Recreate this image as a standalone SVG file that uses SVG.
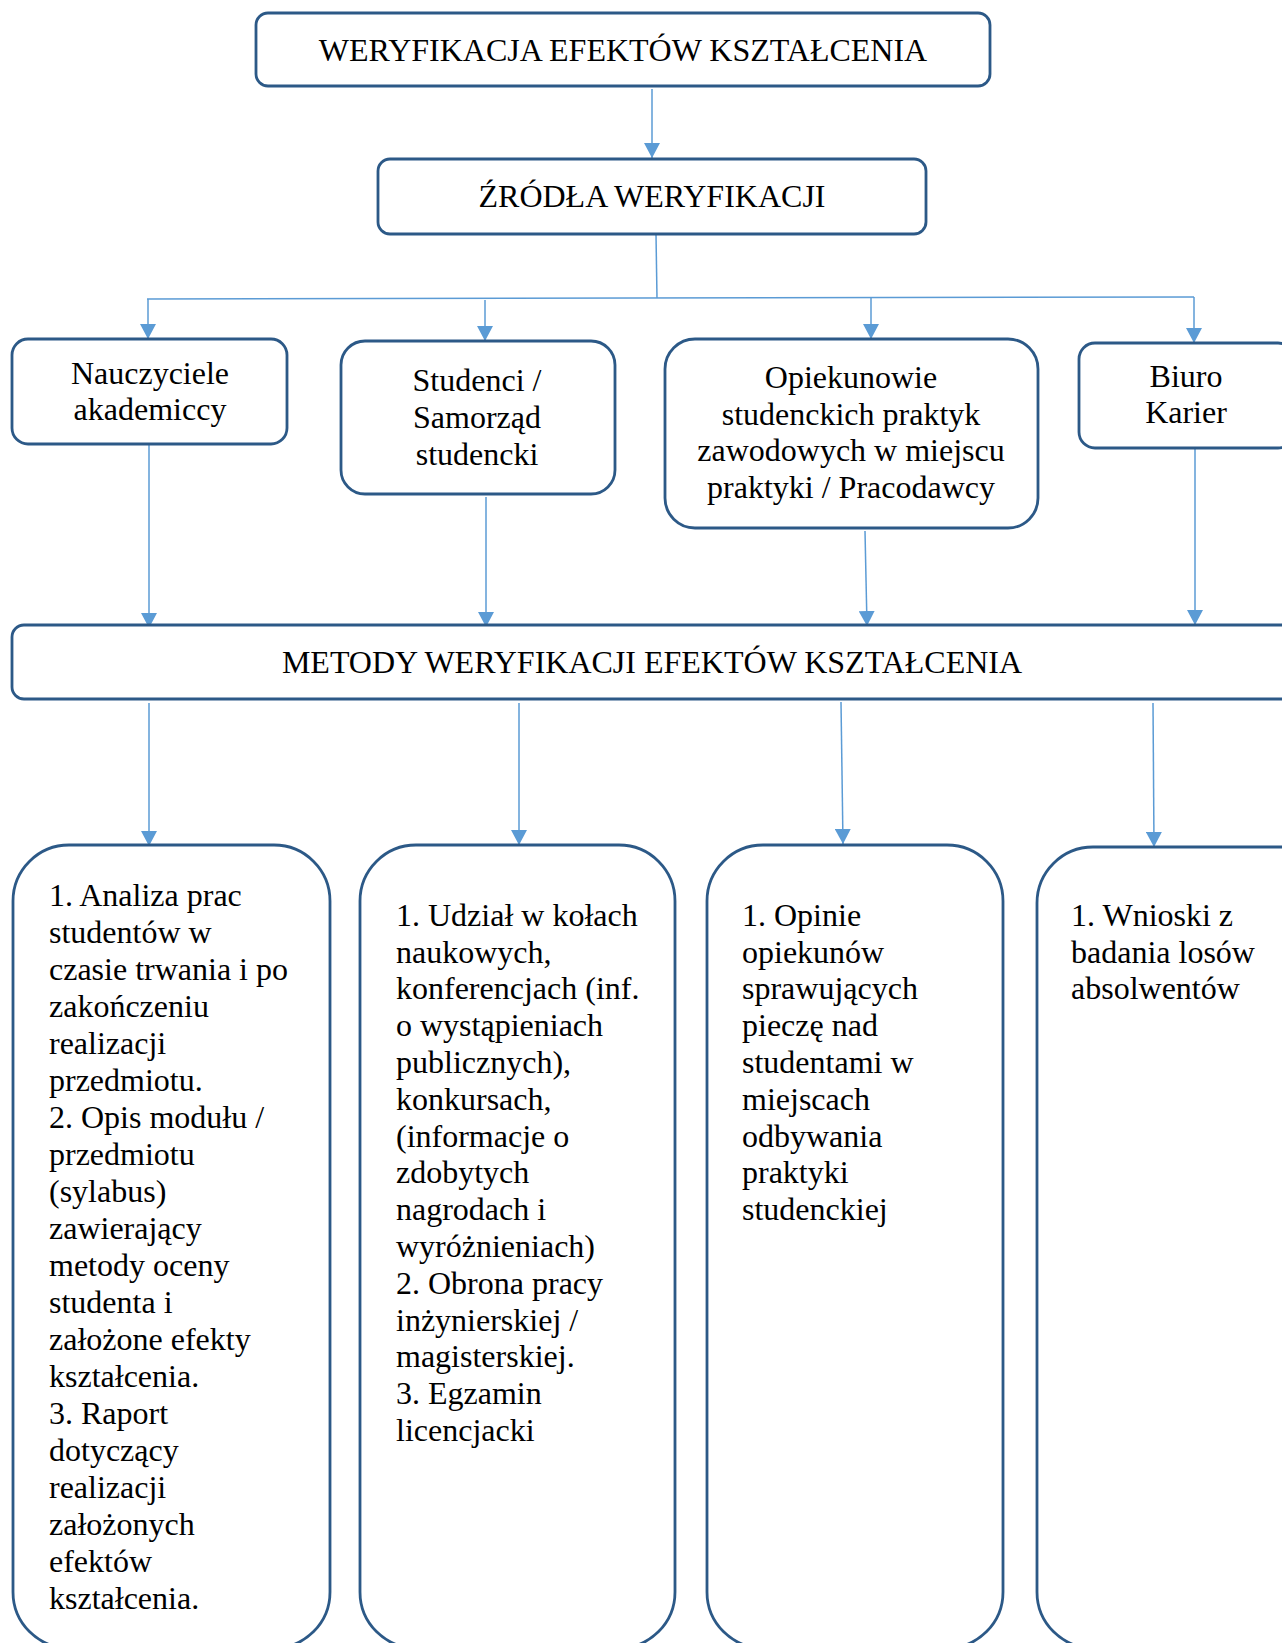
<svg xmlns="http://www.w3.org/2000/svg" width="1282" height="1643" viewBox="0 0 1282 1643">
<style>
.box{fill:#ffffff;stroke:#2c5987;stroke-width:2.8}
.t{font-family:"Liberation Serif","Times New Roman",serif;font-size:32px;fill:#000000}
.c{text-anchor:middle}
.cn{fill:none;stroke:#5b9bd5;stroke-width:1.5}
</style>
<defs>
<marker id="ah" viewBox="0 0 15 16" refX="15" refY="8" markerWidth="15" markerHeight="16" markerUnits="userSpaceOnUse" orient="auto">
<path d="M0,0 L15,8 L0,16 z" fill="#5b9bd5"/>
</marker>
</defs>
<rect width="1282" height="1643" fill="#ffffff"/>

<g id="connectors">
<line class="cn" x1="652" y1="89" x2="652" y2="158" marker-end="url(#ah)"/>
<line class="cn" x1="656" y1="234" x2="657" y2="298"/>
<line class="cn" x1="147" y1="299" x2="1194" y2="297"/>
<line class="cn" x1="148" y1="299" x2="148" y2="339" marker-end="url(#ah)"/>
<line class="cn" x1="485" y1="300" x2="485" y2="341" marker-end="url(#ah)"/>
<line class="cn" x1="871" y1="297" x2="871" y2="339" marker-end="url(#ah)"/>
<line class="cn" x1="1194" y1="297" x2="1194" y2="343" marker-end="url(#ah)"/>
<line class="cn" x1="149" y1="445" x2="149" y2="628" marker-end="url(#ah)"/>
<line class="cn" x1="486" y1="497" x2="486" y2="627" marker-end="url(#ah)"/>
<line class="cn" x1="865" y1="531" x2="867" y2="626" marker-end="url(#ah)"/>
<line class="cn" x1="1195" y1="449" x2="1195" y2="625" marker-end="url(#ah)"/>
<line class="cn" x1="149" y1="703" x2="149" y2="846" marker-end="url(#ah)"/>
<line class="cn" x1="519" y1="703" x2="519" y2="845" marker-end="url(#ah)"/>
<line class="cn" x1="841" y1="702" x2="843" y2="844" marker-end="url(#ah)"/>
<line class="cn" x1="1153" y1="703" x2="1154" y2="847" marker-end="url(#ah)"/>
</g>

<g id="n-weryfikacja">
<rect class="box" x="256" y="13" width="734" height="73" rx="12"/>
<text class="t c" x="623" y="61">WERYFIKACJA EFEKTÓW KSZTAŁCENIA</text>
</g>

<g id="n-zrodla">
<rect class="box" x="378" y="159" width="548" height="75" rx="12"/>
<text class="t c" x="652" y="207">ŹRÓDŁA WERYFIKACJI</text>
</g>

<g id="n-nauczyciele">
<rect class="box" x="12" y="339" width="275" height="105" rx="16"/>
<text class="t c"><tspan x="150" y="384">Nauczyciele</tspan><tspan x="150" y="420">akademiccy</tspan></text>
</g>

<g id="n-studenci">
<rect class="box" x="341" y="341" width="274" height="153" rx="24"/>
<text class="t c"><tspan x="477" y="391">Studenci /</tspan><tspan x="477" y="428">Samorząd</tspan><tspan x="477" y="465">studencki</tspan></text>
</g>

<g id="n-opiekunowie">
<rect class="box" x="665" y="339" width="373" height="189" rx="30"/>
<text class="t c"><tspan x="851" y="388">Opiekunowie</tspan><tspan x="851" y="425">studenckich praktyk</tspan><tspan x="851" y="461">zawodowych w miejscu</tspan><tspan x="851" y="498">praktyki / Pracodawcy</tspan></text>
</g>

<g id="n-biuro">
<rect class="box" x="1079" y="343" width="215" height="105" rx="16"/>
<text class="t c"><tspan x="1186" y="387">Biuro</tspan><tspan x="1186" y="423">Karier</tspan></text>
</g>

<g id="n-metody">
<rect class="box" x="12" y="625" width="1290" height="74" rx="12"/>
<text class="t c" x="652" y="673">METODY WERYFIKACJI EFEKTÓW KSZTAŁCENIA</text>
</g>

<g id="n-metody1">
<rect class="box" x="13" y="845" width="317" height="803" rx="56"/>
<text class="t">
<tspan x="49" y="906">1. Analiza prac</tspan>
<tspan x="49" y="943">studentów w</tspan>
<tspan x="49" y="980">czasie trwania i po</tspan>
<tspan x="49" y="1017">zakończeniu</tspan>
<tspan x="49" y="1054">realizacji</tspan>
<tspan x="49" y="1091">przedmiotu.</tspan>
<tspan x="49" y="1128">2. Opis modułu /</tspan>
<tspan x="49" y="1165">przedmiotu</tspan>
<tspan x="49" y="1202">(sylabus)</tspan>
<tspan x="49" y="1239">zawierający</tspan>
<tspan x="49" y="1276">metody oceny</tspan>
<tspan x="49" y="1313">studenta i</tspan>
<tspan x="49" y="1350">założone efekty</tspan>
<tspan x="49" y="1387">kształcenia.</tspan>
<tspan x="49" y="1424">3. Raport</tspan>
<tspan x="49" y="1461">dotyczący</tspan>
<tspan x="49" y="1498">realizacji</tspan>
<tspan x="49" y="1535">założonych</tspan>
<tspan x="49" y="1572">efektów</tspan>
<tspan x="49" y="1609">kształcenia.</tspan>
</text>
</g>

<g id="n-metody2">
<rect class="box" x="360" y="845" width="315" height="803" rx="56"/>
<text class="t">
<tspan x="396" y="926">1. Udział w kołach</tspan>
<tspan x="396" y="963">naukowych,</tspan>
<tspan x="396" y="999">konferencjach (inf.</tspan>
<tspan x="396" y="1036">o wystąpieniach</tspan>
<tspan x="396" y="1073">publicznych),</tspan>
<tspan x="396" y="1110">konkursach,</tspan>
<tspan x="396" y="1147">(informacje o</tspan>
<tspan x="396" y="1183">zdobytych</tspan>
<tspan x="396" y="1220">nagrodach i</tspan>
<tspan x="396" y="1257">wyróżnieniach)</tspan>
<tspan x="396" y="1294">2. Obrona pracy</tspan>
<tspan x="396" y="1331">inżynierskiej /</tspan>
<tspan x="396" y="1367">magisterskiej.</tspan>
<tspan x="396" y="1404">3. Egzamin</tspan>
<tspan x="396" y="1441">licencjacki</tspan>
</text>
</g>

<g id="n-metody3">
<rect class="box" x="707" y="845" width="296" height="803" rx="56"/>
<text class="t">
<tspan x="742" y="926">1. Opinie</tspan>
<tspan x="742" y="963">opiekunów</tspan>
<tspan x="742" y="999">sprawujących</tspan>
<tspan x="742" y="1036">pieczę nad</tspan>
<tspan x="742" y="1073">studentami w</tspan>
<tspan x="742" y="1110">miejscach</tspan>
<tspan x="742" y="1147">odbywania</tspan>
<tspan x="742" y="1183">praktyki</tspan>
<tspan x="742" y="1220">studenckiej</tspan>
</text>
</g>

<g id="n-metody4">
<rect class="box" x="1037" y="847" width="300" height="801" rx="56"/>
<text class="t">
<tspan x="1071" y="926">1. Wnioski z</tspan>
<tspan x="1071" y="963">badania losów</tspan>
<tspan x="1071" y="999">absolwentów</tspan>
</text>
</g>
</svg>
